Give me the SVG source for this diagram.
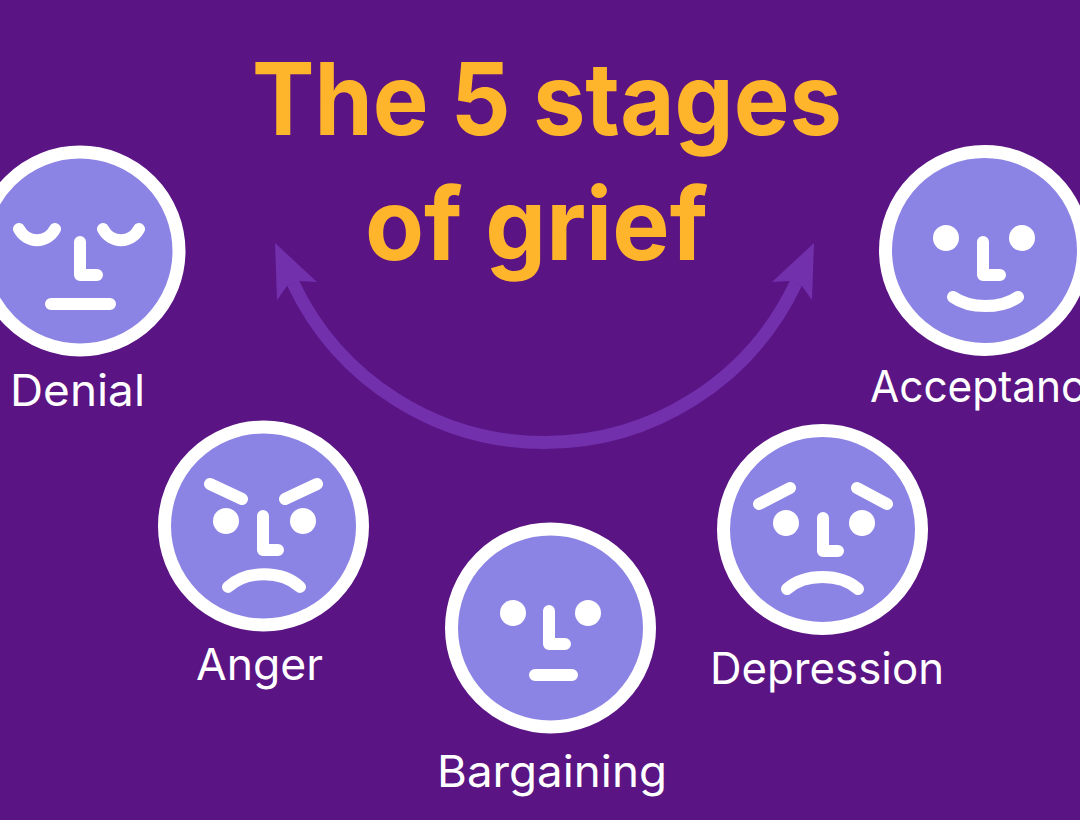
<svg xmlns="http://www.w3.org/2000/svg" width="1080" height="820" viewBox="0 0 1080 820">
<style>
.face{fill:#8c84e4;stroke:#fff;stroke-width:13}
.f{fill:none;stroke:#fff;stroke-width:12;stroke-linecap:round;stroke-linejoin:round}
.e{fill:#fff}
.l{font-family:Inter,"Noto Sans",sans-serif;font-size:44px;font-weight:400;fill:#fff}
.t{font-family:Inter,"Noto Sans",sans-serif;font-size:100px;font-weight:700;fill:#ffb52b}
</style>
<rect width="1080" height="820" fill="#5a1484"/>
<g id="connectors">
<path d="M293 283A278 278 0 0 0 796 283" fill="none" stroke="#7230ad" stroke-width="13"/>
<path d="M275 243L317 282L300 281L293 283L287 286L277 300Z" fill="#7230ad"/>
<path d="M814 243L772 282L789 281L796 283L802 286L812 300Z" fill="#7230ad"/>
</g>
<text class="t" x="252" y="135" textLength="590" lengthAdjust="spacingAndGlyphs">The 5 stages</text>
<text class="t" x="365" y="260" textLength="343" lengthAdjust="spacingAndGlyphs">of grief</text>
<g id="denial"><circle class="face" cx="80" cy="251" r="99"/>
<path class="f" d="M19 229C27 244 47 244 55 229M103 229C111 244 131 244 139 229M80 242V275H97M51 304H110"/>
<text class="l" x="10" y="406" textLength="135" lengthAdjust="spacingAndGlyphs">Denial</text></g>
<g id="anger"><circle class="face" cx="263.500" cy="526" r="99"/>
<circle class="e" cx="226" cy="521" r="13"/><circle class="e" cx="303" cy="521" r="13"/>
<path class="f" d="M210 484L242 499M317 484L285 499M263 516V550H278M228 587C246 570 282 570 300 587"/>
<text class="l" x="196" y="680" textLength="127" lengthAdjust="spacingAndGlyphs">Anger</text></g>
<g id="bargaining"><circle class="face" cx="550.500" cy="628" r="99"/>
<circle class="e" cx="513" cy="613" r="13"/><circle class="e" cx="588" cy="613" r="13"/>
<path class="f" d="M549 611V644H565M535 675H572"/>
<text class="l" x="437" y="787" textLength="230" lengthAdjust="spacingAndGlyphs">Bargaining</text></g>
<g id="depression"><circle class="face" cx="822.500" cy="529.500" r="99"/>
<circle class="e" cx="786" cy="523" r="13"/><circle class="e" cx="862" cy="523" r="13"/>
<path class="f" d="M759 504L790 488M887 504L857 488M823 518V551H838M787 589C805 573 840 573 858 589"/>
<text class="l" x="710" y="684" textLength="234" lengthAdjust="spacingAndGlyphs">Depression</text></g>
<g id="acceptance"><circle class="face" cx="984.500" cy="250.500" r="99"/>
<circle class="e" cx="946" cy="238" r="13"/><circle class="e" cx="1022" cy="238" r="13"/>
<path class="f" d="M983 242V275H1000M953 297C970 309 1001 309 1018 297"/>
<text class="l" x="870" y="402" textLength="240" lengthAdjust="spacingAndGlyphs">Acceptance</text></g>
</svg>
